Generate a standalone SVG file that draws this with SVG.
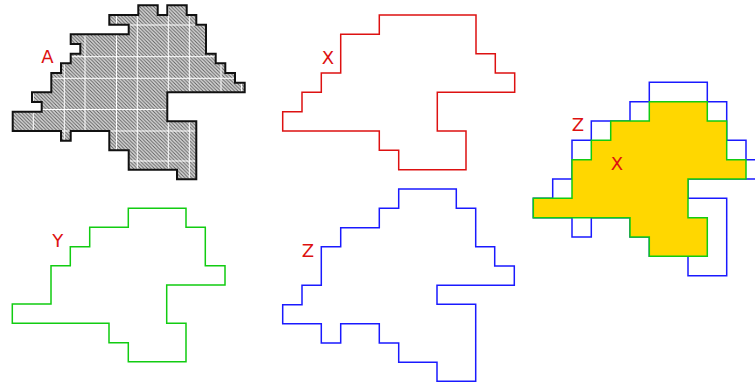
<svg xmlns="http://www.w3.org/2000/svg" width="755" height="385" viewBox="0 0 755 385">
  <style>
    .lbl { font-family: "DejaVu Sans", "Liberation Sans", sans-serif; font-size: 18px; fill: #dd1111; text-anchor: middle; }
    .red { fill: none; stroke: #dd1111; stroke-width: 1.5; }
    .green { fill: none; stroke: #11cc11; stroke-width: 1.5; }
    .blue { fill: none; stroke: #1a1aff; stroke-width: 1.5; }
    .grid { stroke: #ffffff; stroke-width: 1; }
  </style>
  <defs>
    <pattern id="hatch" patternUnits="userSpaceOnUse" width="3.5" height="3.5">
      <rect width="3.5" height="3.5" fill="#d6d6d6"/>
      <path d="M-1,-1 L4.5,4.5 M-1,2.5 L1,4.5 M2.5,-1 L4.5,1" stroke="#5a5a5a" stroke-width="0.9"/>
    </pattern>
    <clipPath id="clipA">
      <polygon id="shapeA" points="138.3,5.3 157.7,5.3 157.7,15 167.3,15 167.3,5.3 186.7,5.3 186.7,15 196.3,15 196.3,24.7 206,24.7 206,53.7 215.7,53.7 215.7,63.3 225.3,63.3 225.3,73 235,73 235,82.7 244.7,82.7 244.7,92.3 167.3,92.3 167.3,121.3 196.3,121.3 196.3,179.3 177,179.3 177,169.7 128.7,169.7 128.7,150.3 109.3,150.3 109.3,131 70.7,131 70.7,140.7 61,140.7 61,131 12.7,131 12.7,111.7 41.7,111.7 41.7,102 32,102 32,92.3 51.3,92.3 51.3,73 61,73 61,63.3 70.7,63.3 70.7,53.7 80.3,53.7 80.3,44 70.7,44 70.7,34.3 128.7,34.3 128.7,24.7 109.3,24.7 109.3,15 138.3,15"/>
    </clipPath>
  </defs>

  <g id="A">
    <use href="#shapeA" fill="url(#hatch)"/>
    <g clip-path="url(#clipA)" class="grid">
      <line x1="33.3" y1="0" x2="33.3" y2="185"/>
      <line x1="64.3" y1="0" x2="64.3" y2="185"/>
      <line x1="85" y1="0" x2="85" y2="185"/>
      <line x1="116.5" y1="0" x2="116.5" y2="185"/>
      <line x1="137.3" y1="0" x2="137.3" y2="185"/>
      <line x1="168.3" y1="0" x2="168.3" y2="185"/>
      <line x1="189.3" y1="0" x2="189.3" y2="185"/>
      <line x1="221" y1="0" x2="221" y2="185"/>
      <line x1="241.5" y1="0" x2="241.5" y2="185"/>
      <line x1="0" y1="25" x2="250" y2="25"/>
      <line x1="0" y1="56.7" x2="250" y2="56.7"/>
      <line x1="0" y1="78.3" x2="250" y2="78.3"/>
      <line x1="0" y1="109.5" x2="250" y2="109.5"/>
      <line x1="0" y1="131" x2="250" y2="131"/>
      <line x1="0" y1="161" x2="250" y2="161"/>
    </g>
    <use href="#shapeA" fill="none" stroke="#111111" stroke-width="2"/>
    <text class="lbl" x="47.5" y="63.3">A</text>
  </g>

  <g id="X">
    <polygon class="red" points="379.3,15 476,15 476,53.7 495.3,53.7 495.3,73 514.7,73 514.7,92.3 437.3,92.3 437.3,131 466,131 466,169.7 398.7,169.7 398.7,150.3 379.3,150.3 379.3,131 282.7,131 282.7,111.7 302,111.7 302,92.3 321.3,92.3 321.3,73 340.7,73 340.7,34.3 379.3,34.3"/>
    <text class="lbl" x="327.8" y="64">X</text>
  </g>

  <g id="Y">
    <polygon class="green" points="128.3,208.3 186,208.3 186,227.3 205.3,227.3 205.3,265.7 225,265.7 225,285 166.7,285 166.7,323.3 186,323.3 186,361.7 128.3,361.7 128.3,342.7 109,342.7 109,323.3 12.3,323.3 12.3,304 51,304 51,265.7 70.3,265.7 70.3,246.7 89.7,246.7 89.7,227.3 128.3,227.3"/>
    <text class="lbl" x="57.8" y="247">Y</text>
  </g>

  <g id="Z">
    <polygon class="blue" points="398.7,189 456.3,189 456.3,208.3 475.7,208.3 475.7,246.7 494.7,246.7 494.7,266 514.3,266 514.3,285.3 437,285.3 437,304.3 475.7,304.3 475.7,381.3 437,381.3 437,362.3 398.7,362.3 398.7,343 379.3,343 379.3,323.7 340.7,323.7 340.7,343 321.3,343 321.3,323.7 282.7,323.7 282.7,304.7 302,304.7 302,285.3 321.3,285.3 321.3,246.7 340.7,246.7 340.7,227.7 379.3,227.7 379.3,208.3 398.7,208.3"/>
    <text class="lbl" x="308" y="257">Z</text>
  </g>

  <g id="overlay">
    <polygon class="blue" points="649.3,82.3 707.3,82.3 707.3,101.7 726.7,101.7 726.7,140.3 746,140.3 746,159.7 765.3,159.7 765.3,179 688,179 688,198.3 726.7,198.3 726.7,275.7 688,275.7 688,256.3 649.3,256.3 649.3,237 630,237 630,217.7 591.3,217.7 591.3,237 572,237 572,217.7 533.3,217.7 533.3,198.3 552.7,198.3 552.7,179 572,179 572,140.3 591.3,140.3 591.3,121 630,121 630,101.7 649.3,101.7"/>
    <polygon fill="#ffd700" stroke="#11cc11" stroke-width="1.5" points="649.3,101.7 707.3,101.7 707.3,121 726.7,121 726.7,159.7 746,159.7 746,179 688,179 688,217.7 707.3,217.7 707.3,256.3 649.3,256.3 649.3,237 630,237 630,217.7 533.3,217.7 533.3,198.3 572,198.3 572,159.7 591.3,159.7 591.3,140.3 610.7,140.3 610.7,121 649.3,121"/>
    <text class="lbl" x="577.8" y="131">Z</text>
    <text class="lbl" x="617" y="170">X</text>
  </g>
</svg>
